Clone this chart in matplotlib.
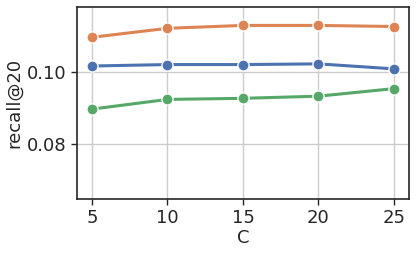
import matplotlib
matplotlib.use("Agg")
import matplotlib.pyplot as plt
import seaborn as sns

c_values = [5, 10, 15, 20, 25]
recall_blue = [0.1017, 0.1021, 0.1021, 0.1023, 0.1009]
recall_orange = [0.1097, 0.1122, 0.1130, 0.1130, 0.1127]
recall_green = [0.0897, 0.0924, 0.0927, 0.0933, 0.0954]

sns.set_theme(style="whitegrid")
sns.set_style("whitegrid", {"axes.edgecolor": "0.15", "xtick.bottom": True, "ytick.left": True})
plt.rcParams["font.size"] = 13

pal = sns.color_palette("deep")
fig, ax = plt.subplots(figsize=(4.16, 2.54), dpi=100)
for ys, col in [(recall_blue, pal[0]), (recall_orange, pal[1]), (recall_green, pal[2])]:
    ax.plot(c_values, ys, color=col, linewidth=2.2, marker="o", markersize=8,
            markeredgecolor="white", markeredgewidth=1)

ax.set_xlim(4, 26)
ax.set_ylim(0.0647, 0.1181)
ax.set_xticks(c_values)
ax.set_yticks([0.08, 0.10])
ax.set_yticklabels(["0.08", "0.10"])
ax.tick_params(labelsize=13, length=4, width=1, color="0.15")
ax.set_xlabel("C", fontsize=13, labelpad=1)
ax.set_ylabel("recall@20", fontsize=13, labelpad=3)
for s in ax.spines.values():
    s.set_linewidth(1.2)
fig.subplots_adjust(left=0.185, right=0.983, top=0.972, bottom=0.217)
fig.savefig("out.png", dpi=100)
